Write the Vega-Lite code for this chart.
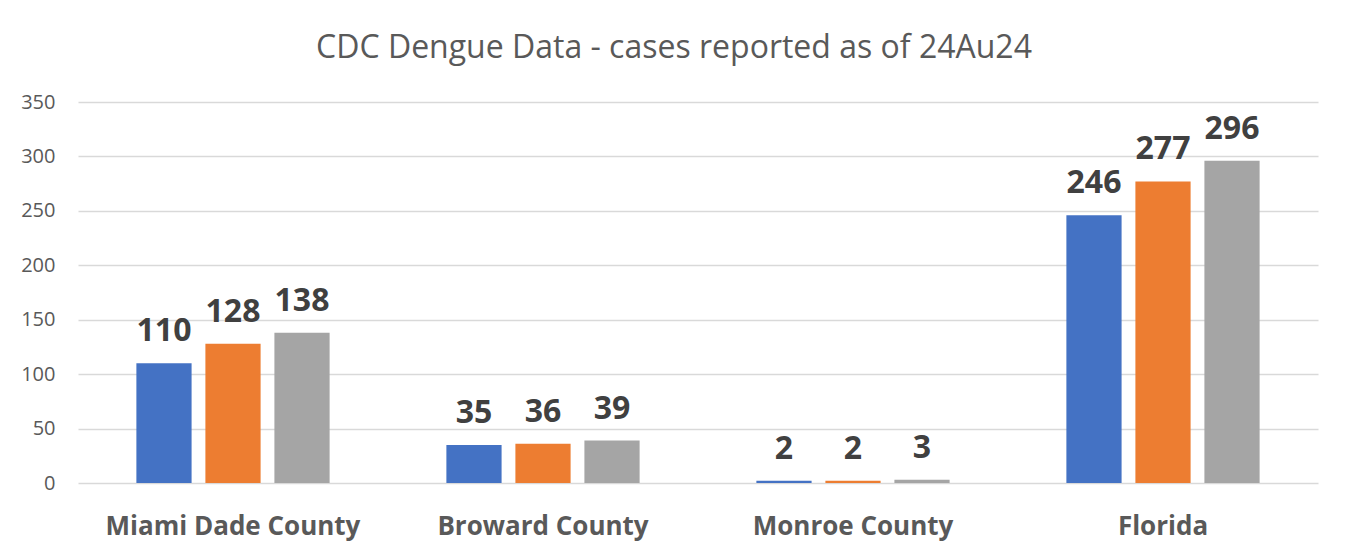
{
  "$schema": "https://vega.github.io/schema/vega-lite/v6.json",
  "autosize": {"type": "none"},
  "width": 1240,
  "height": 381,
  "padding": {"left": 78, "top": 102, "right": 29, "bottom": 77},
  "background": "white",
  "title": {
    "text": "CDC Dengue Data - cases reported as of 24Au24",
    "font": "Open Sans",
    "fontSize": 32,
    "fontWeight": "normal",
    "color": "#595959",
    "anchor": "middle",
    "frame": "group",
    "dx": -24,
    "baseline": "alphabetic",
    "offset": 2
  },
  "data": {
    "values": [
      {"area": "Miami Dade County", "report": "Report 1", "cases": 110},
      {"area": "Miami Dade County", "report": "Report 2", "cases": 128},
      {"area": "Miami Dade County", "report": "Report 3", "cases": 138},
      {"area": "Broward County", "report": "Report 1", "cases": 35},
      {"area": "Broward County", "report": "Report 2", "cases": 36},
      {"area": "Broward County", "report": "Report 3", "cases": 39},
      {"area": "Monroe County", "report": "Report 1", "cases": 2},
      {"area": "Monroe County", "report": "Report 2", "cases": 2},
      {"area": "Monroe County", "report": "Report 3", "cases": 3},
      {"area": "Florida", "report": "Report 1", "cases": 246},
      {"area": "Florida", "report": "Report 2", "cases": 277},
      {"area": "Florida", "report": "Report 3", "cases": 296}
    ]
  },
  "encoding": {
    "x": {
      "field": "area",
      "type": "nominal",
      "sort": null,
      "scale": {"paddingInner": 0, "paddingOuter": 0},
      "axis": {
        "title": null,
        "labelAngle": 0,
        "ticks": false,
        "domain": false,
        "labelFont": "Open Sans",
        "labelFontSize": 26,
        "labelFontWeight": "bold",
        "labelColor": "#595959",
        "labelBaseline": "alphabetic",
        "labelPadding": 51,
        "labelLimit": 0
      }
    },
    "xOffset": {
      "field": "report",
      "type": "nominal",
      "scale": {"paddingInner": 0.2, "paddingOuter": 0.846}
    },
    "y": {
      "field": "cases",
      "type": "quantitative",
      "scale": {"domain": [0, 350]},
      "axis": {
        "title": null,
        "values": [0, 50, 100, 150, 200, 250, 300, 350],
        "ticks": false,
        "domain": false,
        "grid": true,
        "gridColor": "#d9d9d9",
        "gridWidth": 1.5,
        "labelFont": "Open Sans",
        "labelFontSize": 20,
        "labelColor": "#595959",
        "labelPadding": 23
      }
    }
  },
  "layer": [
    {
      "mark": {"type": "bar"},
      "encoding": {
        "color": {
          "field": "report",
          "type": "nominal",
          "scale": {"range": ["#4472C4", "#ED7D31", "#A5A5A5"]},
          "legend": null
        }
      }
    },
    {
      "mark": {
        "type": "text",
        "font": "Open Sans",
        "fontSize": 32,
        "fontWeight": "bold",
        "color": "#404040",
        "baseline": "alphabetic",
        "dy": -22
      },
      "encoding": {
        "text": {"field": "cases", "type": "quantitative"}
      }
    }
  ],
  "config": {
    "view": {"stroke": null}
  }
}
